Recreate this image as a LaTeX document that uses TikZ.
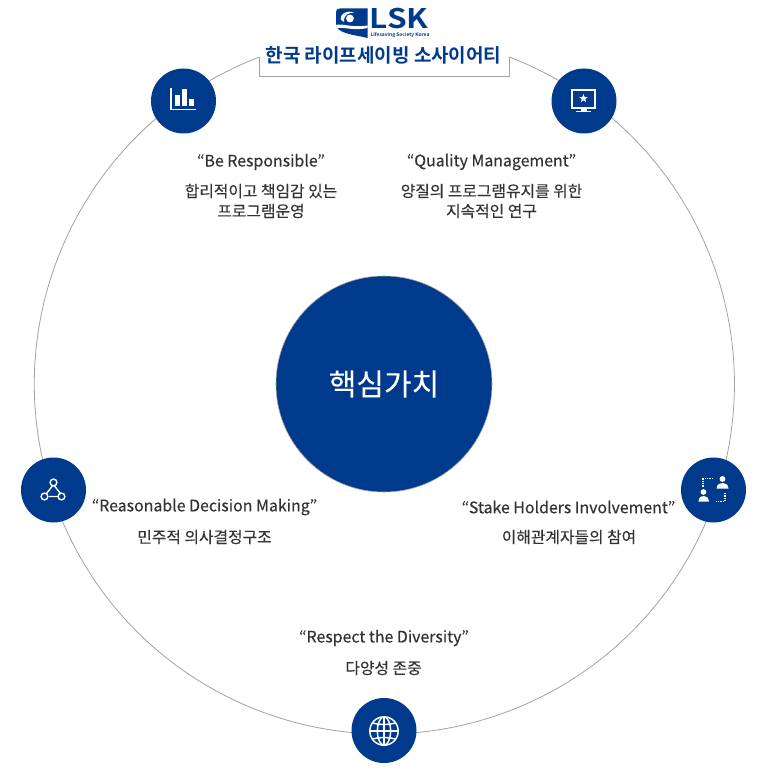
\documentclass[tikz,border=0pt]{standalone}
\usepackage{fontspec}
\setmainfont[FakeBold=0.25]{Noto Sans CJK KR}
\newfontfamily\headfont[BoldFont={Noto Sans CJK KR Bold}]{Noto Sans CJK KR}
\usetikzlibrary{shapes.geometric}
\definecolor{lskblue}{HTML}{003A8C}
\definecolor{ringgray}{HTML}{A3A3A3}
\definecolor{bodytext}{HTML}{333333}
\tikzset{
  x=1pt,y=-1pt,
  badge/.style={circle,fill=lskblue,draw=none,minimum size=65pt,inner sep=0pt},
  ring/.style={draw=ringgray,line width=0.8pt},
  quote/.style={text=bodytext,inner sep=0pt,anchor=center,font=\fontsize{15.9}{18}\selectfont},
  desc/.style={text=bodytext,inner sep=0pt,anchor=center,align=center,font=\fontsize{15.8}{20}\selectfont},
  icon/.style={draw=white,line width=1.4pt,fill=none},
}
\begin{document}
\begin{tikzpicture}
\useasboundingbox (0,0) rectangle (770,770);
\fill[white] (0,0) rectangle (770,770);
% ring with its opening at the top
\coordinate (ringC) at (384.5,384);
\coordinate (bl) at (259.5,57);
\coordinate (br) at (509.5,57);
\draw[ring] (bl) arc[start angle=-110.9,delta angle=-318.2,radius=350];
\draw[ring] (bl) -- (259.5,76) -- (509.5,76) -- (br);
% centre
\node[circle,fill=lskblue,draw=ringgray,line width=0.6pt,minimum size=216pt,inner sep=0pt,text=white,font=\fontsize{30}{36}\selectfont] (core) at (384,384) {핵심가치};
% badges
\node[badge] (b1) at (183.5,101) {};
\node[badge] (b2) at (584,101) {};
\node[badge] (b3) at (713.5,490) {};
\node[badge] (b4) at (53.5,490) {};
\node[badge] (b5) at (384,730.5) {};
% icon 1: bar chart
\draw[icon] (171,88) -- (171,109.5) -- (196,109.5);
\fill[white] (175,95) rectangle (179.5,106);
\fill[white] (182,89) rectangle (187,106);
\fill[white] (189,99) rectangle (193.5,106);
% icon 2: monitor with star
\draw[icon] (572,90) rectangle (595,108);
\node[star,star points=5,star point ratio=2.4,fill=white,draw=none,minimum size=9pt,inner sep=0pt] (st) at (583.5,98.5) {};
\fill[white] (581,108) rectangle (586.5,111);
\fill[white] (576,111) rectangle (591,112.5);
% icon 3: people
\fill[white] (722.5,479) circle (2.9);
\fill[white] (716.5,488.5) .. controls (717,484) and (720,483) .. (722.5,483) .. controls (725,483) and (728,484) .. (728.5,488.5) -- cycle;
\fill[white] (703.5,492) circle (2.9);
\fill[white] (698.5,501.5) .. controls (699,497) and (701,496) .. (703.5,496) .. controls (706,496) and (708.5,497) .. (709,501.5) -- cycle;
\draw[draw=white,line width=1.1pt,dash pattern=on 1.2pt off 1.2pt] (713,478.5) -- (703,478.5) -- (703,487);
\draw[draw=white,line width=1.1pt,dash pattern=on 1.2pt off 1.2pt] (725,493) -- (725,501.5) -- (716,501.5);
% icon 4: triangle network
\draw[icon] (52.4,486) -- (46.5,493.5) (54.5,486) -- (60.5,493.5) (49,496.5) -- (58,496.5);
\draw[icon] (53.5,482.5) circle (3.4);
\draw[icon] (44.5,496.5) circle (3.4);
\draw[icon] (61.5,496.5) circle (3.4);
% icon 5: globe
\begin{scope}[line width=1.5pt,draw=white]
\draw[draw=white] (384,731) circle (14.2);
\draw[draw=white] (384,731) ellipse (6.6 and 14.2);
\draw[draw=white] (384,716.8) -- (384,745.2);
\draw[draw=white] (370,731) -- (398,731);
\draw[draw=white] (372.5,723) .. controls (380,725) and (388,725) .. (395.5,723);
\draw[draw=white] (372.5,739) .. controls (380,737) and (388,737) .. (395.5,739);
\end{scope}
% texts
\node[quote] (q1) at (261,162) {“Be Responsible”};
\node[desc] (d1) at (261,201) {합리적이고 책임감 있는\\프로그램운영};
\node[quote] (q2) at (491.5,162) {“Quality Management”};
\node[desc] (d2) at (491.5,201) {양질의 프로그램유지를 위한\\지속적인 연구};
\node[quote] (q3) at (568.5,507) {“Stake Holders Involvement”};
\node[desc] (d3) at (569,537) {이해관계자들의 참여};
\node[quote] (q4) at (204.5,507) {“Reasonable Decision Making”};
\node[desc] (d4) at (204.5,537) {민주적 의사결정구조};
\node[quote] (q5) at (384,638) {“Respect the Diversity”};
\node[desc] (d5) at (383.5,668) {다양성 존중};
% logo
\fill[lskblue] (336,12) .. controls (336,9.5) and (337.5,8.5) .. (340,8.5) -- (367.5,8.5) -- (367.5,38)
  .. controls (360,36) and (350,35) .. (343,32) .. controls (339,30) and (336,28) .. (336,24) -- cycle;
\fill[white] (336,25) .. controls (343,23) and (350,28) .. (367.5,25.5) -- (367.5,28)
  .. controls (354,31) and (345,27) .. (337,28) -- cycle;
\fill[white] (341,20) .. controls (339.5,13.5) and (347,10) .. (354,12.5)
  .. controls (348.5,12.5) and (343.5,15) .. (344,22) -- cycle;
\fill[white] (350,18.5) circle (3.9);
\node[inner sep=0pt,text=lskblue,xscale=1.17,font=\headfont\fontsize{27}{27}\bfseries\selectfont] (lsk) at (399,18.5) {LSK};
\node[inner sep=0pt,text=lskblue,font=\headfont\fontsize{4.9}{6}\bfseries\selectfont] (tag) at (400,35) {Lifesaving Society Korea};
\node[inner sep=0pt,text=lskblue,font=\headfont\fontsize{19}{20}\bfseries\selectfont] (title) at (383.5,55.5) {한국 라이프세이빙 소사이어티};
\end{tikzpicture}
\end{document}
